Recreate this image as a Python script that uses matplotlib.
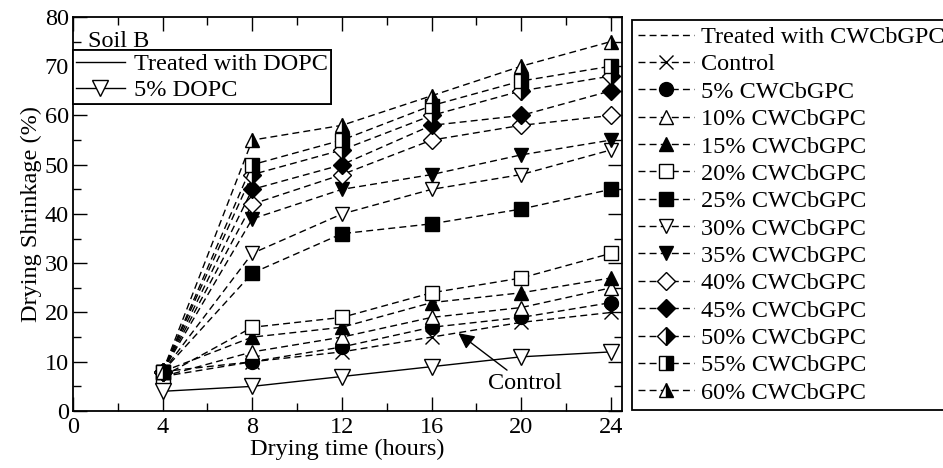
import numpy as np
import matplotlib
matplotlib.use("Agg")
import matplotlib.pyplot as plt
from matplotlib.lines import Line2D

plt.rcParams['font.family'] = ['Liberation Serif', 'DejaVu Serif']
plt.rcParams['mathtext.fontset'] = 'stix'

hours = [4, 8, 12, 16, 20, 24]

# DOPC treated soil
dopc_5 = [4, 5, 7, 9, 11, 12]

# CWCbGPC treated soil
labels = ['Control', '5% CWCbGPC', '10% CWCbGPC', '15% CWCbGPC', '20% CWCbGPC',
          '25% CWCbGPC', '30% CWCbGPC', '35% CWCbGPC', '40% CWCbGPC',
          '45% CWCbGPC', '50% CWCbGPC', '55% CWCbGPC', '60% CWCbGPC']
control = [7, 10, 12, 15, 18, 20]
cw_5 = [8, 10, 13, 17, 19, 22]
cw_10 = [7, 12, 15, 19, 21, 25]
cw_15 = [8, 15, 17, 22, 24, 27]
cw_20 = [7, 17, 19, 24, 27, 32]
cw_25 = [8, 28, 36, 38, 41, 45]
cw_30 = [8, 32, 40, 45, 48, 53]
cw_35 = [8, 39, 45, 48, 52, 55]
cw_40 = [8, 42, 48, 55, 58, 60]
cw_45 = [8, 45, 50, 58, 60, 65]
cw_50 = [8, 48, 53, 60, 65, 68]
cw_55 = [8, 50, 55, 62, 67, 70]
cw_60 = [8, 55, 58, 64, 70, 75]
series = [control, cw_5, cw_10, cw_15, cw_20, cw_25, cw_30, cw_35,
          cw_40, cw_45, cw_50, cw_55, cw_60]

# marker, fillstyle
styles = [('x', 'none'), ('o', 'full'), ('^', 'none'), ('^', 'full'),
          ('s', 'none'), ('s', 'full'), ('v', 'none'), ('v', 'full'),
          ('D', 'none'), ('D', 'full'), ('D', 'right'), ('s', 'right'),
          ('^', 'right')]

FS = 17.5

fig = plt.figure(figsize=(9.43, 4.68), dpi=100)
ax = fig.add_axes([0.0774, 0.1218, 0.5822, 0.8419])

dash = (5, 3)
handles = [Line2D([], [], color='k', lw=1, dashes=dash)]
names = ['Treated with CWCbGPC']
for vals, lab, (m, fs) in zip(series, labels, styles):
    ms = 10
    if m == 'D':
        ms = 9.5
    if fs == 'none':
        kw = dict(markerfacecolor='white', fillstyle='full')
    elif fs == 'full':
        kw = dict(markerfacecolor='k', fillstyle='full')
    else:
        kw = dict(fillstyle=fs, markerfacecolor='k', markerfacecoloralt='white')
    if m == 'x':
        kw = dict()
    ln, = ax.plot(hours, vals, color='k', lw=1, dashes=dash, marker=m,
                  ms=ms, markeredgecolor='k', markeredgewidth=1, zorder=3, **kw)
    handles.append(ln)
    names.append(lab)

l1, = ax.plot(hours, dopc_5, color='k', lw=1, marker='v', ms=11,
              markerfacecolor='white', markeredgecolor='k', zorder=3)

ax.set_xlim(0, 24.5)
ax.set_ylim(0, 80)
ax.set_xticks(np.arange(0, 25, 4))
ax.set_xticks(np.arange(0, 25, 2), minor=True)
ax.set_yticks(np.arange(0, 81, 10))
ax.set_yticks(np.arange(0, 81, 5), minor=True)
ax.tick_params(which='both', direction='in', top=True, right=True, labelsize=FS)
ax.tick_params(which='major', length=10, width=1)
ax.tick_params(which='minor', length=6, width=1)
ax.tick_params(axis='x', pad=4)
ax.tick_params(axis='y', pad=3)
for s in ax.spines.values():
    s.set_linewidth(1.3)

ax.set_xlabel('Drying time (hours)', fontsize=FS, labelpad=1)
ax.set_ylabel('Drying Shrinkage (%)', fontsize=FS, labelpad=2)

ax.text(0.027, 0.938, 'Soil B', transform=ax.transAxes, fontsize=FS, va='center')
leg1 = ax.legend([Line2D([], [], color='k', lw=1), l1],
                 ['Treated with DOPC', '5% DOPC'],
                 loc='upper left', bbox_to_anchor=(0.0, 0.916), fontsize=FS,
                 fancybox=False, edgecolor='k', framealpha=1, borderpad=0.12,
                 labelspacing=0.18, handlelength=2.0, handletextpad=0.4,
                 borderaxespad=0)
leg1.get_frame().set_linewidth(1.3)
ax.add_artist(leg1)

ax.annotate('Control', xy=(17.2, 15.8), xytext=(18.5, 5.6), fontsize=FS,
            va='center', ha='left',
            arrowprops=dict(arrowstyle='-|>', color='k', lw=1,
                            mutation_scale=24, shrinkA=0, shrinkB=0))

leg2 = fig.legend(handles, names, loc='upper left',
                  bbox_to_anchor=(632 / 943, 1 - 20 / 468), fontsize=FS,
                  fancybox=False, edgecolor='k', framealpha=1, borderpad=0.25,
                  labelspacing=0.22, handlelength=2.3, handletextpad=0.3,
                  borderaxespad=0)
leg2.get_frame().set_linewidth(1.3)

fig.savefig('out.png', dpi=100)
